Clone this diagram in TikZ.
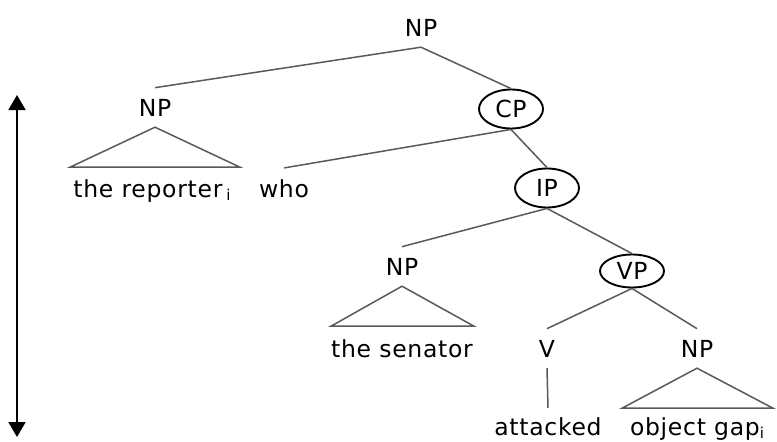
\documentclass[tikz,border=0pt]{standalone}
\usepackage{fontspec}
\setmainfont{DejaVu Sans}[LetterSpace=3]
\usetikzlibrary{arrows.meta,shapes.geometric}
% lowered coindex letter
\newcommand{\coidx}[1]{\raisebox{-3pt}{\fontsize{15}{15}\selectfont #1}}
\begin{document}
\begin{tikzpicture}[x=1pt,y=-1pt,
  every node/.style={font=\fontsize{23.5}{27}\selectfont},
  cat/.style={anchor=base,inner xsep=0pt,inner ysep=11pt},
  word/.style={anchor=base,inner xsep=0pt,inner ysep=11pt},
  ring/.style={ellipse,draw=black,line width=1.9pt,inner sep=0pt,
    minimum width=64pt,minimum height=39pt},
  branch/.style={draw=black!65,line width=1.5pt},
  roof/.style={draw=black!65,line width=1.5pt,line join=miter},
  axis/.style={draw=black,line width=1.8pt,
    {Triangle[width=17pt,length=15pt]}-{Triangle[width=17pt,length=15pt]}}]
\useasboundingbox (0,0) rectangle (777,442);

% categories
\node[cat] (np0) at (421,36) {NP};
\node[cat] (np1) at (155,116) {NP};
\node[ring] (cp) at (511,109) {CP};
\node[ring] (ip) at (547,188) {IP};
\node[cat] (np2) at (402,275) {NP};
\node[ring,minimum height=33pt] (vp) at (632,271) {VP};
\node[cat] (v) at (547,357) {V};
\node[cat] (np3) at (697,357) {NP};

% words
\node[word] (rep) at (152,197) {the reporter\,\coidx{i}};
\node[word] (who) at (284,197) {who};
\node[word] (sen) at (402,357) {the senator};
\node[word,inner ysep=9pt] (att) at (548,435) {attacked};
\node[word] (gap) at (697,435) {object gap\coidx{i}};

% branches
\draw[branch] (np0.south) -- (np1.north);
\draw[branch] (np0.south) -- (cp.north);
\draw[branch] (cp.south) -- (who.north);
\draw[branch] (cp.south) -- (ip.north);
\draw[branch] (ip.south) -- (np2.north);
\draw[branch] (ip.south) -- (vp.north);
\draw[branch] (vp.south) -- (v.north);
\draw[branch] (vp.south) -- (np3.north);
\draw[branch] (v.south) -- (att.north);

% roofs over unanalysed phrases
\draw[roof] (np1.south) -- ++(-85,40) -- ++(170,0) -- cycle;
\draw[roof] (np2.south) -- ++(-71,40) -- ++(143,0) -- cycle;
\draw[roof] (np3.south) -- ++(-75,40) -- ++(151,0) -- cycle;

% vertical double arrow
\coordinate (top) at (17,95);
\coordinate (bottom) at (17,437);
\draw[axis] (top) -- (bottom);
\end{tikzpicture}
\end{document}
